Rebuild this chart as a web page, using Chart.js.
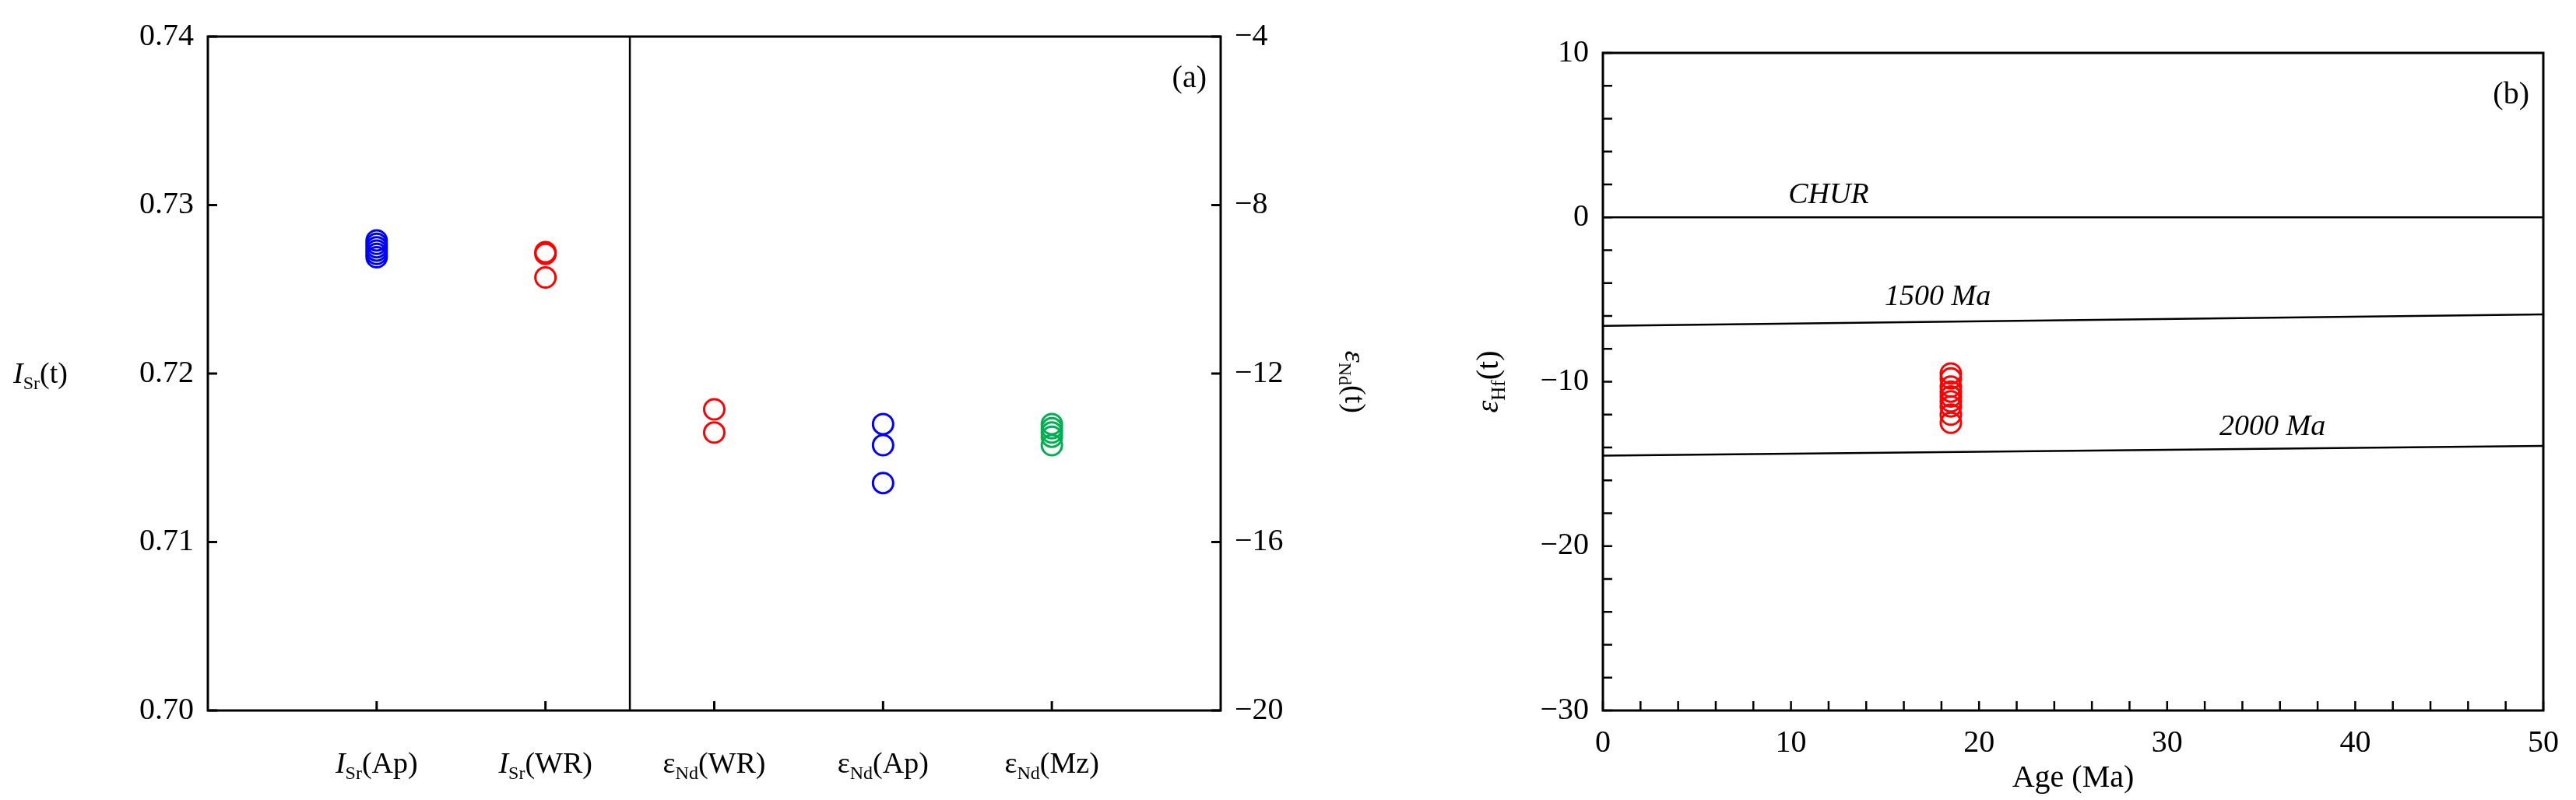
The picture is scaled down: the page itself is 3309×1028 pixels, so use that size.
<!DOCTYPE html>
<html>
<head>
<meta charset="utf-8">
<script src="https://cdn.jsdelivr.net/npm/chart.js@4.4.1/dist/chart.umd.min.js"></script>
<style>
  body { margin: 0; background: #fff; width: 3309px; height: 1028px; position: relative; overflow: hidden; }
  .box { position: absolute; top: 0; height: 1028px; }
</style>
</head>
<body>
<div class="box" style="left:0;width:1780px"><canvas id="chartA"></canvas></div>
<div class="box" style="left:1700px;width:1609px"><canvas id="chartB"></canvas></div>
<script>
// Panel (a) categories: [main, subscript, suffix]
const categoriesA = [
  ["I", "Sr", "(Ap)"],
  ["I", "Sr", "(WR)"],
  ["ε", "Nd", "(WR)"],
  ["ε", "Nd", "(Ap)"],
  ["ε", "Nd", "(Mz)"]
];
const isrAp = [0.7269, 0.7271, 0.7273, 0.7275, 0.7277, 0.7279];
const isrWR = [0.7271, 0.7272, 0.7257];
const endWR = [-12.85, -13.4];
const endAp = [-13.2, -13.7, -14.6];
const endMz = [-13.2, -13.3, -13.4, -13.5, -13.7];

// Panel (b)
const hfAge = 18.5;
const hfValues = [-9.5, -9.8, -10.3, -10.6, -10.9, -11.2, -11.5, -12.0, -12.5];
const linesAge = [0, 50];
const churLine = [0, 0];
const line1500 = [-6.6, -5.9];
const line2000 = [-14.5, -13.9];

const SERIF = "'Liberation Serif', 'DejaVu Serif', serif";
const BLUE = "#0000ff", RED = "#ff0000", GREEN = "#00b050";
const fmtMinus = v => String(v).replace("-", "\u2212");

function pts(x, ys) { return ys.map(y => ({ x: x, y: y })); }
function ring(color) {
  return { type: "scatter", pointRadius: 13, pointHoverRadius: 13, pointBorderWidth: 3,
    borderColor: color, backgroundColor: "rgba(0,0,0,0)", showLine: false };
}

// draws "main" + subscript + suffix centered at x,y
function subText(ctx, x, y, parts, size, italicMain) {
  const [main, sub, rest] = parts;
  const fMain = (italicMain ? "italic " : "") + size + "px " + SERIF;
  const fSub = Math.round(size * 0.62) + "px " + SERIF;
  const fRest = size + "px " + SERIF;
  ctx.font = fMain; const w1 = ctx.measureText(main).width;
  ctx.font = fSub; const w2 = ctx.measureText(sub).width;
  ctx.font = fRest; const w3 = ctx.measureText(rest).width;
  let cx = x - (w1 + w2 + w3) / 2;
  ctx.textAlign = "left"; ctx.textBaseline = "alphabetic";
  ctx.font = fMain; ctx.fillText(main, cx, y); cx += w1;
  ctx.font = fSub; ctx.fillText(sub, cx, y + size * 0.22); cx += w2;
  ctx.font = fRest; ctx.fillText(rest, cx, y);
}

function frame(ctx, a) {
  ctx.strokeStyle = "#000"; ctx.lineWidth = 3;
  ctx.strokeRect(a.left, a.top, a.right - a.left, a.bottom - a.top);
}

const panelA = {
  id: "panelA",
  afterDraw(chart) {
    const ctx = chart.ctx, a = chart.chartArea;
    const x = chart.scales.x, y = chart.scales.y, y2 = chart.scales.y2;
    ctx.save();
    frame(ctx, a);
    ctx.lineWidth = 2.5;
    // divider
    const dx = x.getPixelForValue(2.5);
    ctx.beginPath(); ctx.moveTo(dx, a.top); ctx.lineTo(dx, a.bottom); ctx.stroke();
    // inside ticks
    ctx.lineWidth = 3;
    categoriesA.forEach((c, i) => {
      const px = x.getPixelForValue(i + 1);
      ctx.beginPath(); ctx.moveTo(px, a.bottom); ctx.lineTo(px, a.bottom - 12); ctx.stroke();
    });
    y.ticks.forEach(t => {
      const py = y.getPixelForValue(t.value);
      ctx.beginPath(); ctx.moveTo(a.left, py); ctx.lineTo(a.left + 12, py); ctx.stroke();
    });
    y2.ticks.forEach(t => {
      const py = y2.getPixelForValue(t.value);
      ctx.beginPath(); ctx.moveTo(a.right, py); ctx.lineTo(a.right - 12, py); ctx.stroke();
    });
    ctx.fillStyle = "#000";
    categoriesA.forEach((c, i) => {
      subText(ctx, x.getPixelForValue(i + 1), a.bottom + 80, c, 38, c[0] === "I");
    });
    // left title
    subText(ctx, 52, y.getPixelForValue(0.72) + 12, ["I", "Sr", "(t)"], 38, true);
    // right title (rotated)
    ctx.translate(1740, y2.getPixelForValue(-12.2));
    ctx.rotate(Math.PI / 2);
    subText(ctx, 0, 12, ["ε", "Nd", "(t)"], 38, true);
    ctx.restore();
    ctx.save();
    ctx.font = "40px " + SERIF; ctx.fillStyle = "#000"; ctx.textAlign = "right";
    ctx.fillText("(a)", a.right - 18, a.top + 65);
    ctx.restore();
  }
};

new Chart(document.getElementById("chartA"), {
  type: "scatter",
  data: {
    datasets: [
      Object.assign(ring(BLUE), { data: pts(1, isrAp), yAxisID: "y" }),
      Object.assign(ring(RED), { data: pts(2, isrWR), yAxisID: "y" }),
      Object.assign(ring(RED), { data: pts(3, endWR), yAxisID: "y2" }),
      Object.assign(ring(BLUE), { data: pts(4, endAp), yAxisID: "y2" }),
      Object.assign(ring(GREEN), { data: pts(5, endMz), yAxisID: "y2" })
    ]
  },
  options: {
    responsive: true, maintainAspectRatio: false, animation: false,
    layout: { padding: { top: 47, right: 0, bottom: 0, left: 0 } },
    plugins: { legend: { display: false }, tooltip: { enabled: false } },
    scales: {
      x: { type: "linear", min: 0, max: 6, grid: { display: false }, border: { display: false },
           ticks: { display: false }, afterFit: s => { s.height = 115; } },
      y: { position: "left", min: 0.70, max: 0.74, grid: { display: false }, border: { display: false },
           ticks: { stepSize: 0.01, color: "#000", font: { family: SERIF, size: 40 }, padding: 10,
                    callback: v => v.toFixed(2) },
           afterFit: s => { s.width = 267; } },
      y2: { position: "right", min: -20, max: -4, grid: { display: false }, border: { display: false },
            ticks: { stepSize: 4, color: "#000", font: { family: SERIF, size: 40 }, padding: 10,
                     callback: v => fmtMinus(v) },
            afterFit: s => { s.width = 212; } }
    }
  },
  plugins: [panelA]
});

const panelB = {
  id: "panelB",
  afterDraw(chart) {
    const ctx = chart.ctx, a = chart.chartArea;
    const x = chart.scales.x, y = chart.scales.y;
    ctx.save();
    frame(ctx, a);
    ctx.lineWidth = 2.5;
    x.ticks.forEach(t => {
      const px = x.getPixelForValue(t.value);
      ctx.beginPath(); ctx.moveTo(px, a.bottom); ctx.lineTo(px, a.bottom - 12); ctx.stroke();
    });
    y.ticks.forEach(t => {
      const py = y.getPixelForValue(t.value);
      ctx.beginPath(); ctx.moveTo(a.left, py); ctx.lineTo(a.left + 12, py); ctx.stroke();
    });
    ctx.fillStyle = "#000";
    ctx.font = "italic 38px " + SERIF; ctx.textAlign = "center"; ctx.textBaseline = "alphabetic";
    ctx.fillText("CHUR", x.getPixelForValue(12), y.getPixelForValue(0) - 18);
    ctx.fillText("1500 Ma", x.getPixelForValue(17.8), y.getPixelForValue(-6.2) - 18);
    ctx.fillText("2000 Ma", x.getPixelForValue(35.6), y.getPixelForValue(-14.1) - 18);
    ctx.font = "40px " + SERIF; ctx.textAlign = "right";
    ctx.fillText("(b)", a.right - 18, a.top + 65);
    ctx.translate(212, y.getPixelForValue(-10));
    ctx.rotate(-Math.PI / 2);
    subText(ctx, 0, 12, ["ε", "Hf", "(t)"], 40, true);
    ctx.restore();
  }
};

function refLine(ys) {
  return { type: "line", data: linesAge.map((v, i) => ({ x: v, y: ys[i] })), borderColor: "#000",
    borderWidth: 2.5, pointRadius: 0, fill: false };
}

new Chart(document.getElementById("chartB"), {
  type: "scatter",
  data: {
    datasets: [
      refLine(churLine), refLine(line1500), refLine(line2000),
      Object.assign(ring(RED), { data: pts(hfAge, hfValues) })
    ]
  },
  options: {
    responsive: true, maintainAspectRatio: false, animation: false,
    layout: { padding: { top: 68, right: 42, bottom: 0, left: 0 } },
    plugins: { legend: { display: false }, tooltip: { enabled: false } },
    scales: {
      x: { type: "linear", min: 0, max: 50, grid: { display: false }, border: { display: false },
           ticks: { stepSize: 2, autoSkip: false, maxRotation: 0, color: "#000", font: { family: SERIF, size: 40 },
                    padding: 10, callback: v => (v % 10 === 0 ? String(v) : "") },
           title: { display: true, text: "Age (Ma)", color: "#000", font: { family: SERIF, size: 40 }, padding: { top: 0 } },
           afterFit: s => { s.height = 115; } },
      y: { min: -30, max: 10, grid: { display: false }, border: { display: false },
           ticks: { stepSize: 2, autoSkip: false, color: "#000", font: { family: SERIF, size: 40 }, padding: 10,
                    callback: v => (v % 10 === 0 ? fmtMinus(v) : "") },
           afterFit: s => { s.width = 359; } }
    }
  },
  plugins: [panelB]
});
</script>
</body>
</html>
